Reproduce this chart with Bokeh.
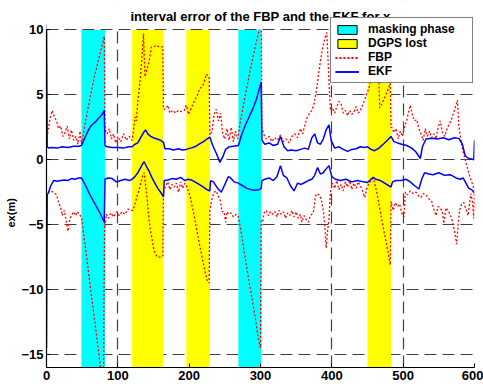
import math
from bokeh.plotting import figure
from bokeh.models import Range1d, Legend, LegendItem, Label, FixedTicker, Title
from bokeh.embed import file_html
from bokeh.resources import INLINE

FONT = "Liberation Sans"

# ---------------- data ----------------
x_ticks = [0, 100, 200, 300, 400, 500, 600]
y_ticks = [-15, -10, -5, 0, 5, 10]
x_limits = (0, 600)
y_limits = (-16, 10)
y_view_top = 12.27   # extra head-room above the axes (title / legend area), masked white

mask_start = [49, 269]
mask_end = [82, 301]
dgps_start = [120, 196, 450]
dgps_end = [164, 229, 483]

ekf_upper = [(0, 10.5), (1, 1.0), (3, 0.9), (8, 0.95), (15, 0.9), (22, 1.0), (30, 0.95), (38, 1.05),
             (45, 1.05), (49, 1.1), (53, 1.6), (58, 2.2), (62, 2.6), (66, 2.8), (70, 3.0), (74, 3.25),
             (78, 3.5), (81, 3.8), (82, 1.1), (85, 1.0), (92, 0.95), (100, 0.95), (108, 0.9), (115, 1.0),
             (120, 1.0), (124, 1.2), (128, 1.3), (132, 1.7), (136, 2.1), (139, 2.3), (142, 2.0), (146, 1.8),
             (150, 1.7), (155, 1.6), (160, 1.5), (164, 1.35), (166, 0.85), (172, 0.85), (178, 0.75),
             (185, 0.85), (190, 0.75), (196, 0.8), (202, 0.9), (208, 1.0), (214, 1.2), (220, 1.4),
             (225, 1.6), (229, 1.75), (233, 1.1), (238, 0.5), (243, -0.2), (247, 0.2), (251, 0.8),
             (256, 1.0), (262, 1.05), (269, 1.1), (274, 2.0), (279, 2.7), (284, 3.3), (289, 3.9),
             (294, 4.6), (298, 5.4), (301, 6.0), (302, 1.5), (306, 1.2), (312, 1.3), (318, 1.1),
             (324, 1.2), (328, 1.8), (333, 1.0), (338, 0.7), (343, 0.75), (350, 0.7), (356, 0.8),
             (362, 0.9), (367, 0.8), (372, 1.7), (376, 2.0), (380, 1.3), (384, 1.2), (388, 1.6),
             (392, 2.3), (396, 2.7), (399, 1.5), (404, 0.9), (410, 1.0), (416, 0.8), (422, 0.65),
             (428, 0.8), (434, 0.85), (440, 1.0), (446, 0.95), (450, 1.0), (455, 0.8), (460, 0.7),
             (466, 0.9), (472, 1.2), (478, 1.5), (483, 1.8), (487, 1.4), (492, 1.3), (498, 1.2),
             (505, 1.1), (512, 0.9), (518, 0.6), (524, 0.1), (527, 1.0), (532, 1.6), (540, 1.65),
             (548, 1.6), (556, 1.7), (564, 1.55), (572, 1.7), (578, 1.65), (583, 1.2), (587, 0.3),
             (592, 0.1), (597, 0.05), (599, 0.0), (600, 1.5)]

ekf_lower = [(0, -14.5), (1, -2.7), (3, -2.5), (6, -2.0), (10, -1.6), (15, -1.65), (20, -1.6),
             (25, -1.55), (30, -1.6), (35, -1.45), (40, -1.5), (45, -1.4), (49, -1.4), (55, -2.0),
             (60, -2.6), (65, -3.1), (70, -3.6), (75, -4.1), (81, -4.8), (82, -1.5), (86, -1.4),
             (92, -1.45), (98, -1.7), (104, -1.6), (110, -1.5), (116, -1.6), (120, -1.5), (124, -1.3),
             (128, -1.0), (132, -0.6), (135, -0.3), (137, -0.15), (140, -0.5), (144, -0.9), (148, -1.4),
             (152, -1.8), (156, -2.2), (160, -2.5), (164, -2.85), (165, -1.6), (170, -1.55),
             (176, -1.45), (182, -1.5), (188, -1.35), (194, -1.6), (198, -1.5), (203, -1.55),
             (208, -1.7), (214, -1.9), (220, -2.1), (225, -2.3), (229, -2.4), (230, -1.6), (234, -1.7),
             (240, -2.2), (245, -2.5), (250, -1.9), (255, -1.3), (258, -1.4), (263, -1.7), (269, -1.8),
             (275, -2.0), (281, -2.2), (287, -2.3), (293, -2.35), (298, -2.3), (301, -2.2), (302, -1.6),
             (306, -1.5), (312, -1.4), (318, -1.6), (323, -1.3), (328, -0.45), (332, -1.2), (337, -1.4),
             (342, -2.0), (347, -2.4), (352, -1.8), (357, -1.9), (362, -1.75), (367, -1.6), (372, -1.5),
             (376, -1.2), (380, -0.6), (384, -1.1), (388, -1.0), (392, -0.7), (396, -0.45), (400, -1.3),
             (405, -1.5), (412, -1.6), (420, -1.5), (428, -1.7), (436, -1.6), (444, -1.7), (450, -1.75),
             (455, -1.5), (458, -1.35), (462, -1.5), (468, -1.6), (474, -1.8), (480, -2.0), (483, -2.1),
             (485, -1.7), (490, -1.6), (497, -1.6), (504, -1.5), (510, -1.7), (516, -2.0), (522, -2.25),
             (526, -1.5), (530, -1.0), (536, -1.1), (542, -1.15), (550, -1.0), (558, -1.2), (566, -1.15),
             (574, -1.4), (580, -1.5), (584, -1.4), (588, -1.8), (592, -2.2), (596, -2.3), (599, -2.5),
             (600, -2.5)]

fbp_upper = [(0, 1.4), (2, 2.2), (5, 3.2), (8, 3.8), (11, 3.3), (14, 3.0), (17, 2.4), (20, 2.6),
             (23, 1.8), (26, 2.1), (29, 2.6), (32, 1.6), (35, 2.3), (38, 1.5), (41, 1.8), (44, 1.2),
             (47, 2.2), (49, 1.2), (53, 2.4), (58, 3.9), (63, 5.3), (68, 6.6), (73, 7.7), (77, 8.6),
             (81, 9.5), (82, 2.3), (85, 2.0), (88, 2.4), (91, 1.6), (94, 2.0), (97, 1.3), (100, 1.8),
             (104, 1.4), (108, 2.0), (112, 1.5), (116, 1.8), (120, 1.5), (122, 2.3), (124, 3.3),
             (126, 3.0), (128, 4.5), (131, 6.0), (134, 8.0), (136, 9.7), (138, 6.4), (141, 7.0),
             (144, 7.6), (147, 8.7), (150, 8.7), (154, 8.8), (158, 8.7), (163, 8.7), (164, 3.9),
             (167, 3.9), (170, 4.2), (173, 3.6), (177, 3.8), (181, 3.6), (185, 3.8), (189, 3.7),
             (193, 3.8), (196, 4.2), (199, 3.5), (203, 4.0), (207, 4.5), (211, 4.9), (215, 5.5),
             (219, 5.7), (222, 6.2), (224, 6.6), (228, 6.4), (229, 1.9), (232, 2.2), (235, 3.5),
             (238, 3.9), (241, 3.0), (244, 3.6), (247, 2.0), (250, 1.6), (253, 2.4), (256, 1.5),
             (259, 2.5), (262, 1.4), (265, 2.2), (268, 1.6), (272, 3.0), (276, 4.2), (281, 5.6),
             (286, 7.0), (291, 8.3), (296, 9.5), (301, 10.6), (302, 2.5), (305, 1.9), (308, 1.6),
             (312, 1.8), (316, 1.4), (320, 1.7), (324, 1.5), (328, 1.9), (332, 1.4), (336, 1.6),
             (340, 1.3), (344, 1.8), (348, 2.0), (352, 1.7), (356, 2.4), (359, 2.0), (362, 2.6),
             (365, 3.2), (369, 3.6), (372, 3.8), (375, 4.3), (378, 5.2), (381, 6.4), (384, 7.6),
             (387, 8.6), (390, 9.3), (393, 9.8), (396, 6.0), (398, 3.8), (401, 4.0), (404, 3.6),
             (407, 4.1), (410, 4.5), (413, 4.3), (416, 3.6), (419, 3.8), (422, 3.4), (425, 3.8),
             (428, 3.5), (431, 3.7), (434, 4.1), (437, 3.6), (440, 3.8), (443, 4.2), (446, 4.6),
             (449, 5.1), (452, 5.5), (455, 6.3), (458, 7.6), (461, 9.0), (464, 10.5), (467, 4.0),
             (470, 4.3), (474, 4.8), (478, 5.3), (482, 5.9), (483, 2.5), (484, 2.5), (487, 2.1),
             (490, 2.4), (493, 1.6), (496, 2.2), (499, 1.8), (502, 2.6), (505, 3.0), (508, 3.8),
             (510, 4.2), (513, 3.4), (516, 3.0), (519, 3.1), (522, 2.4), (525, 2.0), (528, 1.5),
             (531, 2.4), (534, 1.8), (537, 2.2), (540, 1.7), (543, 2.0), (546, 1.6), (549, 2.5),
             (552, 3.0), (555, 2.1), (558, 1.8), (561, 2.3), (564, 2.7), (567, 3.0), (570, 3.5),
             (573, 4.0), (576, 4.6), (578, 2.6), (581, 1.5), (584, 0.6), (587, 0.0), (590, -0.6),
             (593, -1.2), (596, -1.7), (598, -2.0), (600, -2.4)]

fbp_lower = [(0, -5.0), (1, -2.7), (3, -2.5), (6, -2.4), (10, -2.5), (14, -2.7), (17, -3.3),
             (20, -3.7), (22, -4.3), (25, -3.9), (28, -4.8), (30, -5.5), (32, -4.8), (34, -4.4),
             (36, -4.2), (38, -4.0), (41, -4.3), (43, -4.0), (46, -4.2), (49, -4.4), (54, -6.5),
             (59, -8.7), (64, -10.9), (69, -13.0), (73, -14.8), (76, -16.2), (78, -17.0), (80, -16.5),
             (81, -8.0), (81.5, -4.7), (82, -5.1), (84, -4.2), (87, -4.5), (90, -4.1), (94, -4.4),
             (98, -4.0), (102, -4.3), (106, -4.0), (110, -4.2), (114, -3.8), (118, -3.9), (121, -3.9),
             (124, -3.4), (127, -2.8), (130, -2.3), (133, -1.6), (135, -1.2), (137, -1.0), (139, -2.0),
             (141, -3.0), (143, -4.2), (145, -5.2), (147, -5.8), (150, -6.8), (153, -7.3), (156, -7.5),
             (160, -7.5), (163, -7.4), (164, -2.5), (167, -2.0), (170, -1.7), (173, -2.3), (176, -1.9),
             (179, -2.1), (182, -1.8), (185, -2.5), (188, -1.7), (191, -2.2), (194, -1.8), (196, -2.0),
             (199, -2.4), (202, -3.0), (205, -3.8), (208, -4.6), (211, -5.5), (214, -6.4), (217, -7.2),
             (220, -8.0), (223, -8.8), (226, -9.4), (228, -9.5), (229, -3.9), (232, -3.0), (235, -2.5),
             (238, -2.4), (241, -2.8), (244, -3.2), (246, -4.0), (249, -4.0), (251, -4.8), (253, -4.0),
             (256, -4.2), (259, -4.1), (262, -4.4), (266, -4.2), (269, -4.4), (273, -5.6), (277, -7.0),
             (281, -8.4), (285, -9.7), (289, -11.0), (293, -12.3), (297, -13.8), (300, -14.5),
             (301, -4.7), (303, -4.8), (305, -4.1), (308, -3.9), (311, -4.3), (314, -4.0), (317, -4.2),
             (320, -4.0), (323, -4.4), (326, -3.9), (329, -4.2), (332, -4.0), (335, -4.5), (338, -4.1),
             (341, -4.3), (344, -3.9), (347, -4.4), (350, -4.0), (353, -4.5), (356, -4.2), (358, -4.8),
             (361, -4.3), (364, -4.6), (367, -4.8), (370, -4.3), (374, -4.1), (377, -2.8), (379, -2.6),
             (382, -2.7), (385, -3.0), (388, -3.9), (390, -4.9), (392, -6.8), (394, -5.5), (396, -4.6),
             (398, -2.5), (401, -1.8), (404, -2.2), (407, -1.6), (410, -2.3), (413, -1.9), (416, -2.4),
             (419, -1.7), (422, -2.1), (425, -1.6), (428, -2.3), (431, -1.8), (434, -2.2), (437, -1.7),
             (440, -2.0), (443, -2.4), (446, -2.9), (449, -2.2), (452, -1.8), (455, -1.6), (458, -1.4),
             (461, -2.0), (464, -2.8), (467, -3.7), (470, -4.6), (473, -5.5), (476, -6.3), (479, -7.2),
             (482, -8.1), (483, -3.2), (486, -3.9), (489, -3.3), (492, -3.6), (495, -3.4), (498, -4.1),
             (501, -4.4), (503, -2.5), (506, -2.7), (510, -2.4), (514, -2.6), (518, -2.5), (522, -2.8),
             (525, -2.9), (528, -2.6), (532, -2.7), (536, -3.0), (540, -3.2), (543, -3.8), (546, -4.3),
             (549, -3.6), (552, -3.7), (555, -4.0), (557, -4.9), (560, -3.7), (564, -4.0), (568, -4.5),
             (572, -5.5), (575, -6.5), (577, -5.0), (579, -3.9), (582, -3.4), (585, -3.3), (588, -3.8),
             (591, -4.3), (593, -3.4), (595, -2.6), (597, -3.2), (599, -4.5), (600, -2.5)]

title_text = "interval error of the FBP and the EKF for x"
y_label_text = "ex(m)"
legend_labels = ["masking phase", "DGPS lost", "FBP", "EKF"]


def split(pairs):
    return [a for a, _ in pairs], [b for _, b in pairs]


# ---------------- figure ----------------
p = figure(width=483, height=387, output_backend="svg", toolbar_location=None,
           x_range=Range1d(*x_limits), y_range=Range1d(y_limits[0], y_view_top),
           min_border_left=46, min_border_right=9, min_border_top=0, min_border_bottom=20)
p.outline_line_color = None
p.background_fill_color = "white"
p.border_fill_color = "white"

for ax in (p.xaxis[0], p.yaxis[0]):
    ax.major_label_text_font = FONT
    ax.major_label_text_font_size = "13px"
    ax.major_label_text_font_style = "bold"
    ax.major_label_text_color = "black"
    ax.major_tick_in = 4
    ax.major_tick_out = 0
    ax.minor_tick_line_color = None
    ax.axis_line_color = "black"
    ax.axis_line_width = 1.2
    ax.major_tick_line_color = "black"
p.xaxis[0].ticker = FixedTicker(ticks=x_ticks)
p.yaxis[0].ticker = FixedTicker(ticks=y_ticks)
p.yaxis[0].bounds = y_limits
p.xaxis[0].major_label_standoff = 3
p.yaxis[0].major_label_standoff = 3

p.xgrid[0].ticker = FixedTicker(ticks=x_ticks)
p.ygrid[0].ticker = FixedTicker(ticks=y_ticks)
for g in (p.xgrid[0], p.ygrid[0]):
    g.grid_line_color = "#404040"
    g.grid_line_dash = "12 6"
    g.grid_line_width = 1.2

# bands
n_mask = len(mask_start)
n_dgps = len(dgps_start)
p.quad(left=mask_start, right=mask_end, bottom=[y_limits[0]] * n_mask, top=[y_limits[1]] * n_mask,
       fill_color="#00FFFF", line_color=None)
p.quad(left=dgps_start, right=dgps_end, bottom=[y_limits[0]] * n_dgps, top=[y_limits[1]] * n_dgps,
       fill_color="#FFFF00", line_color=None)

# legend-only proxy boxes (with black border), placed off-view so only the legend shows them
off = x_limits[0] - 100
leg_mask = p.quad(left=[off], right=[off + 1], bottom=[0], top=[1],
                  fill_color="#00FFFF", line_color="black", line_width=1)
leg_dgps = p.quad(left=[off], right=[off + 1], bottom=[0], top=[1],
                  fill_color="#FFFF00", line_color="black", line_width=1)

# curves
fx1, fy1 = split(fbp_upper)
fx2, fy2 = split(fbp_lower)
r_f1 = p.line(fx1, fy1, line_color="#FF0000", line_width=1.3, line_dash="2 2")
r_f2 = p.line(fx2, fy2, line_color="#FF0000", line_width=1.3, line_dash="2 2")
ex1, ey1 = split(ekf_upper)
ex2, ey2 = split(ekf_lower)
r_e1 = p.line(ex1, ey1, line_color="#0000FF", line_width=1.5)
r_e2 = p.line(ex2, ey2, line_color="#0000FF", line_width=1.5)

# white mask over the head-room above the axes box
p.quad(left=[x_limits[0] - 10], right=[x_limits[1] + 10], bottom=[y_limits[1] + 0.07], top=[y_view_top + 1],
       fill_color="white", line_color=None)

# title (inside the head-room, so the legend can overlap it like in the original)
p.add_layout(Label(x=(x_limits[0] + x_limits[1]) / 2, y=11.0, text=title_text,
                   text_align="center", text_baseline="middle", text_font=FONT,
                   text_font_size="13px", text_font_style="bold", text_color="black"))

# y label as a side title
p.add_layout(Title(text=y_label_text, align="left", offset=140, vertical_align="bottom", standoff=3,
                   text_font=FONT, text_font_size="11px", text_font_style="bold", text_color="black"),
             "left")

legend = Legend(items=[LegendItem(label=legend_labels[0], renderers=[leg_mask]),
                       LegendItem(label=legend_labels[1], renderers=[leg_dgps]),
                       LegendItem(label=legend_labels[2], renderers=[r_f1, r_f2]),
                       LegendItem(label=legend_labels[3], renderers=[r_e1, r_e2])],
                location=(284, 284), orientation="vertical",
                label_text_font=FONT, label_text_font_size="12px", label_text_font_style="bold",
                label_text_color="black",
                glyph_width=24, glyph_height=11, label_height=14, label_width=100,
                label_standoff=9, spacing=0, padding=4, margin=0,
                border_line_color="black", border_line_width=1.2,
                background_fill_color="white", background_fill_alpha=1.0)
p.add_layout(legend)

open("out.html", "w").write(file_html(p, INLINE))
